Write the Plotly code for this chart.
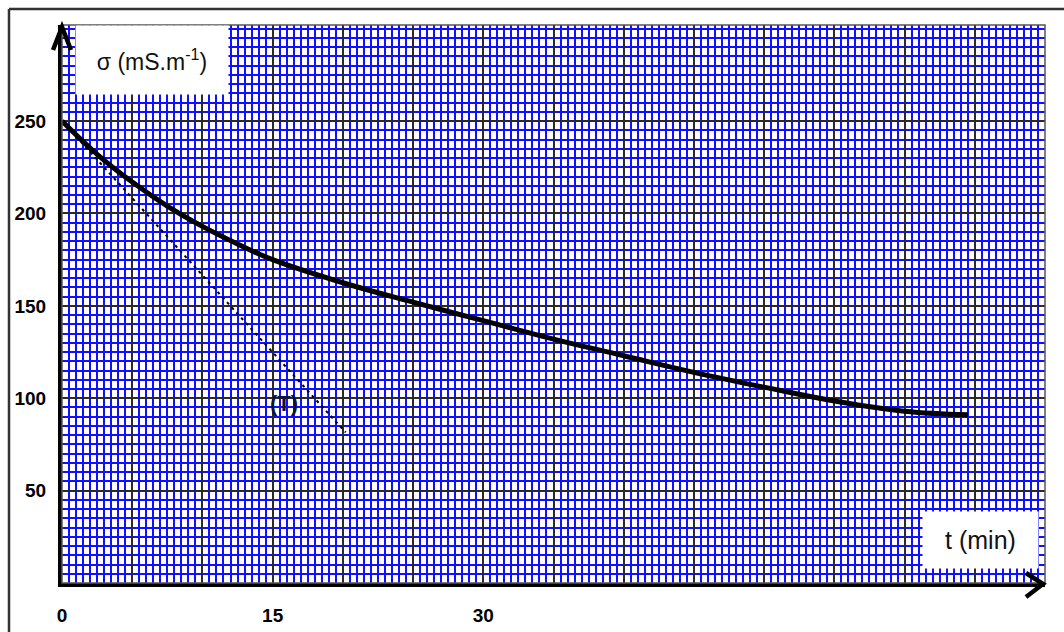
import plotly.graph_objects as go

# conductivity curve
t_min = [0, 2.5, 5, 7.5, 10, 12.5, 15, 20, 25, 30, 35, 40, 45, 50, 55, 60, 64.5]
sigma = [250, 232, 217, 204, 193, 183.5, 175, 162.5, 152, 142, 132, 123, 114, 106, 98.5, 93, 91]

# tangent (T) at t = 0
tangent_t = [0, 20.2]
tangent_sigma = [250, 81.5]

x_ticks = list(range(0, 75, 5))
x_labels = ["0", " ", " ", "15", " ", " ", "30"] + [" "] * 8
y_ticks = [0, 50, 100, 150, 200, 250]
y_labels = [" ", "50", "100", "150", "200", "250"]

# plot area in pixels
L, R, T, B = 62, 1045, 25, 583
W, H = 1064, 632


def px(x, y):
    return (x - L) / (R - L), (B - y) / (B - T)


fig = go.Figure()

fig.add_trace(go.Scatter(
    x=tangent_t, y=tangent_sigma, mode="lines",
    line=dict(color="black", width=2, dash="3px,4px"),
    hoverinfo="skip"
))
fig.add_trace(go.Scatter(
    x=t_min, y=sigma, mode="lines",
    line=dict(color="black", width=5, shape="spline", smoothing=1.1),
    hoverinfo="skip"
))

shapes = []
# outer frame
x0, y0 = px(9, 9)
x1, y1 = px(1064, 632)
shapes.append(dict(type="line", xref="paper", yref="paper", x0=x0, y0=y0, x1=x1, y1=y0,
                   line=dict(color="#333333", width=2.5)))
shapes.append(dict(type="line", xref="paper", yref="paper", x0=x0, y0=y0, x1=x0, y1=y1,
                   line=dict(color="#333333", width=2.5)))
# plot border
shapes.append(dict(type="rect", xref="paper", yref="paper", x0=0, y0=0, x1=1, y1=1,
                   line=dict(color="#555555", width=1.5), layer="above"))


def path_px(points):
    pts = [px(*p) for p in points]
    return "M " + " L ".join(f"{a},{b}" for a, b in pts)


# axis arrow heads
shapes.append(dict(type="path", xref="paper", yref="paper",
                   path=path_px([(53, 50), (62, 27), (71, 50)]),
                   line=dict(color="black", width=4.5), layer="above"))
shapes.append(dict(type="path", xref="paper", yref="paper",
                   path=path_px([(1026, 573), (1043, 584), (1026, 597)]),
                   line=dict(color="black", width=4.5), layer="above"))

annotations = []
# label boxes
cx, cy = px(152, 60)
annotations.append(dict(xref="paper", yref="paper", x=cx, y=cy, showarrow=False,
                        xanchor="center", yanchor="middle",
                        text="σ (mS.m<sup>-1</sup>)", width=150, height=66,
                        bgcolor="white", font=dict(family="Liberation Sans", size=23, color="#111111")))
cx, cy = px(980, 540)
annotations.append(dict(xref="paper", yref="paper", x=cx, y=cy, showarrow=False,
                        xanchor="center", yanchor="middle",
                        text="t (min)", width=113, height=54,
                        bgcolor="white", font=dict(family="Liberation Sans", size=25, color="#111111")))
annotations.append(dict(x=15.8, y=97, showarrow=False, text="<b>(T)</b>",
                        xanchor="center", yanchor="middle",
                        font=dict(family="Liberation Sans", size=22, color="#111133")))

tick_font = dict(family="Liberation Sans", size=19, color="black", weight="bold")

fig.update_layout(
    width=W, height=H,
    margin=dict(l=L, r=W - R, t=T, b=H - B),
    plot_bgcolor="white", paper_bgcolor="white",
    showlegend=False,
    shapes=shapes, annotations=annotations,
    xaxis=dict(
        range=[0, 70], tickvals=x_ticks, ticktext=x_labels, ticks="",
        showgrid=True, gridcolor="#2a2a2a", gridwidth=1.5,
        minor=dict(dtick=0.5, tick0=0, showgrid=True, gridcolor="#1010ff", gridwidth=1.7),
        zeroline=False, showline=True, linecolor="black", linewidth=4,
        ticklabelstandoff=12, tickfont=tick_font, automargin=False,
    ),
    yaxis=dict(
        range=[0, 302], tickvals=y_ticks, ticktext=y_labels, ticks="",
        showgrid=True, gridcolor="#2a2a2a", gridwidth=1.5,
        minor=dict(dtick=5, tick0=0, showgrid=True, gridcolor="#1010ff", gridwidth=1.7),
        zeroline=False, showline=True, linecolor="black", linewidth=4,
        ticklabelstandoff=8, tickfont=tick_font, automargin=False,
    ),
)

fig.write_html("out.html", config={"displayModeBar": False},
               post_script="document.body.style.margin='0';")
